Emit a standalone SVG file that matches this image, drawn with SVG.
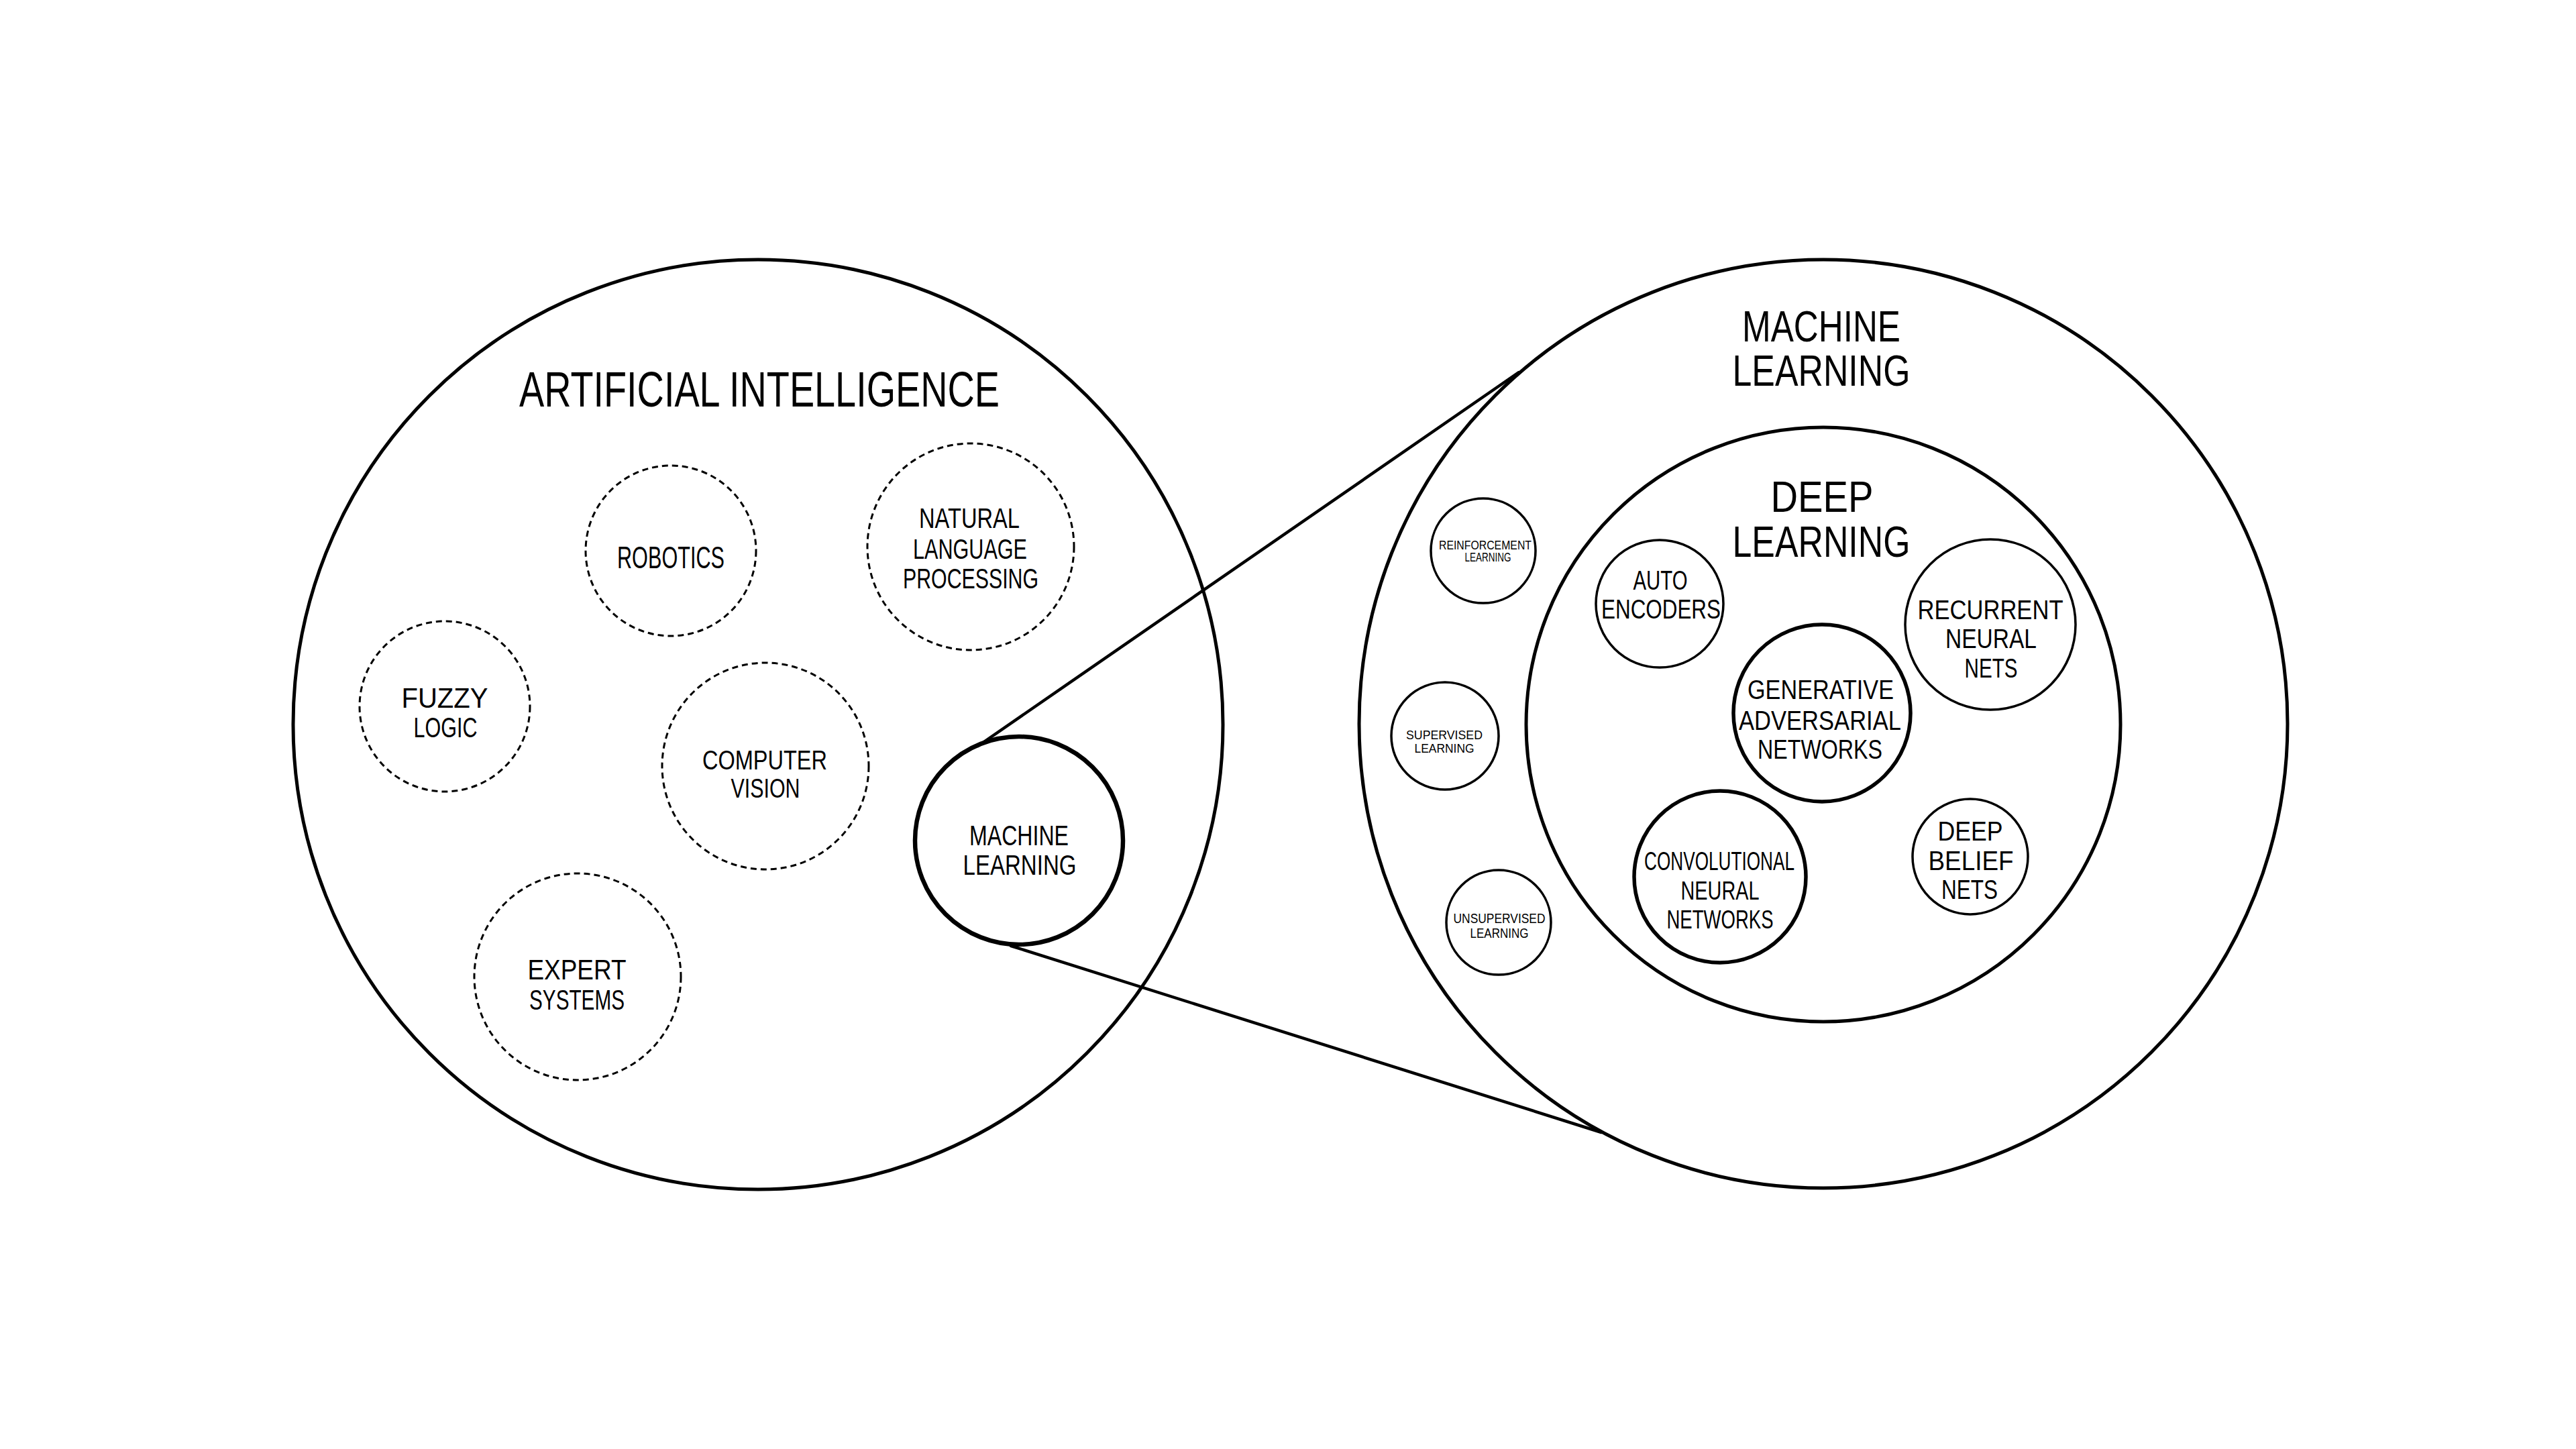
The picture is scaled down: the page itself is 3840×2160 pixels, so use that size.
<svg xmlns="http://www.w3.org/2000/svg" width="3840" height="2160" viewBox="0 0 3840 2160">
<style>
.big{fill:none;stroke:#000;stroke-width:5}
.thick{fill:none;stroke:#000;stroke-width:5.5}
.thin{fill:none;stroke:#000;stroke-width:3.5}
.dash{fill:none;stroke:#000;stroke-width:3;stroke-dasharray:9 6}
.conn{fill:none;stroke:#000;stroke-width:4.5;stroke-linecap:round}
text{font-family:"Liberation Sans","DejaVu Sans",sans-serif;fill:#000;text-anchor:middle}
</style>
<rect width="3840" height="2160" fill="#fff"/>
<g id="ai">
<circle class="big" cx="1130" cy="1080" r="693"/>
<text x="1132" y="606" font-size="74" textLength="716" lengthAdjust="spacingAndGlyphs">ARTIFICIAL INTELLIGENCE</text>
</g>
<g id="robotics">
<circle class="dash" cx="1000" cy="821" r="127"/>
<text x="1000" y="847" font-size="47" textLength="160" lengthAdjust="spacingAndGlyphs">ROBOTICS</text>
</g>
<g id="nlp">
<circle class="dash" cx="1447" cy="815" r="154"/>
<text x="1445" y="787" font-size="42" textLength="150" lengthAdjust="spacingAndGlyphs">NATURAL</text>
<text x="1446" y="833" font-size="42" textLength="170" lengthAdjust="spacingAndGlyphs">LANGUAGE</text>
<text x="1447" y="877" font-size="42" textLength="202" lengthAdjust="spacingAndGlyphs">PROCESSING</text>
</g>
<g id="fuzzy">
<circle class="dash" cx="663" cy="1053" r="127"/>
<text x="663" y="1055" font-size="42" textLength="129" lengthAdjust="spacingAndGlyphs">FUZZY</text>
<text x="664" y="1099" font-size="42" textLength="95" lengthAdjust="spacingAndGlyphs">LOGIC</text>
</g>
<g id="cv">
<circle class="dash" cx="1141" cy="1142" r="154"/>
<text x="1140" y="1147" font-size="40" textLength="186" lengthAdjust="spacingAndGlyphs">COMPUTER</text>
<text x="1141" y="1189" font-size="40" textLength="103" lengthAdjust="spacingAndGlyphs">VISION</text>
</g>
<g id="expert">
<circle class="dash" cx="861" cy="1456" r="154"/>
<text x="860" y="1460" font-size="43" textLength="147" lengthAdjust="spacingAndGlyphs">EXPERT</text>
<text x="860" y="1505" font-size="43" textLength="142" lengthAdjust="spacingAndGlyphs">SYSTEMS</text>
</g>
<g id="ml-small">
<circle fill="none" stroke="#000" stroke-width="6.5" cx="1519" cy="1253" r="155"/>
<text x="1519" y="1260" font-size="42" textLength="148" lengthAdjust="spacingAndGlyphs">MACHINE</text>
<text x="1520" y="1304" font-size="42" textLength="169" lengthAdjust="spacingAndGlyphs">LEARNING</text>
</g>
<g id="connectors">
<line class="conn" x1="1458" y1="1112" x2="2264" y2="555"/>
<line class="conn" x1="1507" y1="1410" x2="2387" y2="1688"/>
</g>
<g id="ml">
<circle class="big" cx="2718" cy="1079" r="692"/>
<text x="2715" y="509" font-size="64" textLength="236" lengthAdjust="spacingAndGlyphs">MACHINE</text>
<text x="2715" y="575" font-size="64" textLength="265" lengthAdjust="spacingAndGlyphs">LEARNING</text>
</g>
<g id="reinforcement">
<circle class="thin" cx="2211" cy="821" r="78"/>
<text x="2214" y="819" font-size="18" textLength="138" lengthAdjust="spacingAndGlyphs">REINFORCEMENT</text>
<text x="2218" y="837" font-size="18" textLength="69" lengthAdjust="spacingAndGlyphs">LEARNING</text>
</g>
<g id="supervised">
<circle class="thin" cx="2154" cy="1097" r="80"/>
<text x="2153" y="1102" font-size="19" textLength="114" lengthAdjust="spacingAndGlyphs">SUPERVISED</text>
<text x="2153" y="1122" font-size="19" textLength="89" lengthAdjust="spacingAndGlyphs">LEARNING</text>
</g>
<g id="unsupervised">
<circle class="thin" cx="2234" cy="1375" r="78"/>
<text x="2235" y="1376" font-size="20" textLength="137" lengthAdjust="spacingAndGlyphs">UNSUPERVISED</text>
<text x="2235" y="1398" font-size="20" textLength="87" lengthAdjust="spacingAndGlyphs">LEARNING</text>
</g>
<g id="dl">
<circle class="big" cx="2718" cy="1080" r="443"/>
<text x="2716" y="763" font-size="64" textLength="153" lengthAdjust="spacingAndGlyphs">DEEP</text>
<text x="2715" y="830" font-size="64" textLength="265" lengthAdjust="spacingAndGlyphs">LEARNING</text>
</g>
<g id="autoencoders">
<circle class="thin" cx="2474" cy="900" r="95"/>
<text x="2475" y="879" font-size="40" textLength="81" lengthAdjust="spacingAndGlyphs">AUTO</text>
<text x="2476" y="922" font-size="40" textLength="178" lengthAdjust="spacingAndGlyphs">ENCODERS</text>
</g>
<g id="rnn">
<circle class="thin" cx="2967" cy="931" r="127"/>
<text x="2967" y="923" font-size="40" textLength="217" lengthAdjust="spacingAndGlyphs">RECURRENT</text>
<text x="2968" y="966" font-size="40" textLength="136" lengthAdjust="spacingAndGlyphs">NEURAL</text>
<text x="2968" y="1010" font-size="40" textLength="79" lengthAdjust="spacingAndGlyphs">NETS</text>
</g>
<g id="gan">
<circle class="thick" cx="2716" cy="1063" r="132"/>
<text x="2714" y="1042" font-size="41" textLength="218" lengthAdjust="spacingAndGlyphs">GENERATIVE</text>
<text x="2713" y="1088" font-size="41" textLength="242" lengthAdjust="spacingAndGlyphs">ADVERSARIAL</text>
<text x="2713" y="1131" font-size="41" textLength="186" lengthAdjust="spacingAndGlyphs">NETWORKS</text>
</g>
<g id="cnn">
<circle class="thick" cx="2564" cy="1307" r="128"/>
<text x="2563" y="1297" font-size="39" textLength="224" lengthAdjust="spacingAndGlyphs">CONVOLUTIONAL</text>
<text x="2564" y="1341" font-size="39" textLength="117" lengthAdjust="spacingAndGlyphs">NEURAL</text>
<text x="2564" y="1384" font-size="39" textLength="159" lengthAdjust="spacingAndGlyphs">NETWORKS</text>
</g>
<g id="dbn">
<circle class="thin" cx="2937" cy="1277" r="86"/>
<text x="2937" y="1253" font-size="40" textLength="97" lengthAdjust="spacingAndGlyphs">DEEP</text>
<text x="2938" y="1297" font-size="40" textLength="127" lengthAdjust="spacingAndGlyphs">BELIEF</text>
<text x="2936" y="1340" font-size="40" textLength="84" lengthAdjust="spacingAndGlyphs">NETS</text>
</g>
</svg>
